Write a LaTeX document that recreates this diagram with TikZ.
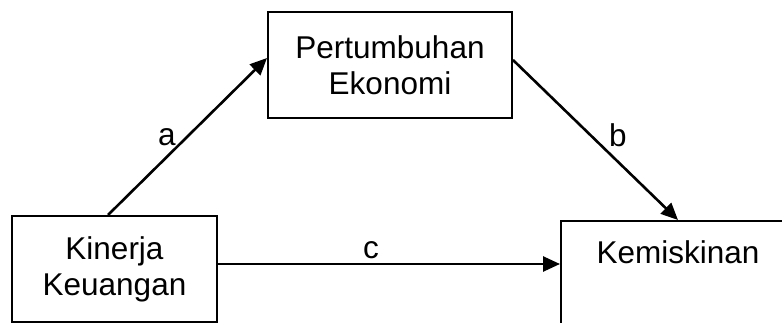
\documentclass[tikz,border=0pt]{standalone}
\usepackage{fontspec}
\setmainfont{Liberation Sans}
\usetikzlibrary{arrows.meta}

\tikzset{
  varbox/.style={draw, line width=2pt, inner sep=0pt, align=center,
    font=\fontsize{31.5}{36}\selectfont},
  arr/.style={line width=2.6pt, -{Triangle[length=17pt,width=15pt]}},
  pathlabel/.style={inner sep=0pt, font=\fontsize{31.5}{36}\selectfont}
}

\begin{document}
\begin{tikzpicture}[x=1pt,y=-1pt]
  \useasboundingbox (0,0) rectangle (782,323);

  % the three variables
  \node[varbox, minimum width=205pt, minimum height=106pt] (kin) at (114.5,269)
    {Kinerja\\Keuangan};
  \node[varbox, minimum width=244pt, minimum height=106pt] (pe) at (390,65)
    {Pertumbuhan\\Ekonomi};
  \node[varbox, anchor=north west, minimum width=234pt,
        text height=42pt, text depth=64pt] (km) at (560,220) {Kemiskinan};

  % paths a, b and c
  \draw[arr] ([xshift=-6.5pt]kin.north) -- ([yshift=7pt]pe.west);
  \draw[arr] ([yshift=5pt]pe.east) -- (km.north);
  \draw[arr] ([yshift=5pt]kin.east) coordinate (cs) -- (cs -| km.west);

  % path labels
  \node[pathlabel] (la) at (167,137.5) {a};
  \node[pathlabel] (lb) at (618,135) {b};
  \node[pathlabel] (lc) at (371,250.5) {c};
\end{tikzpicture}
\end{document}
